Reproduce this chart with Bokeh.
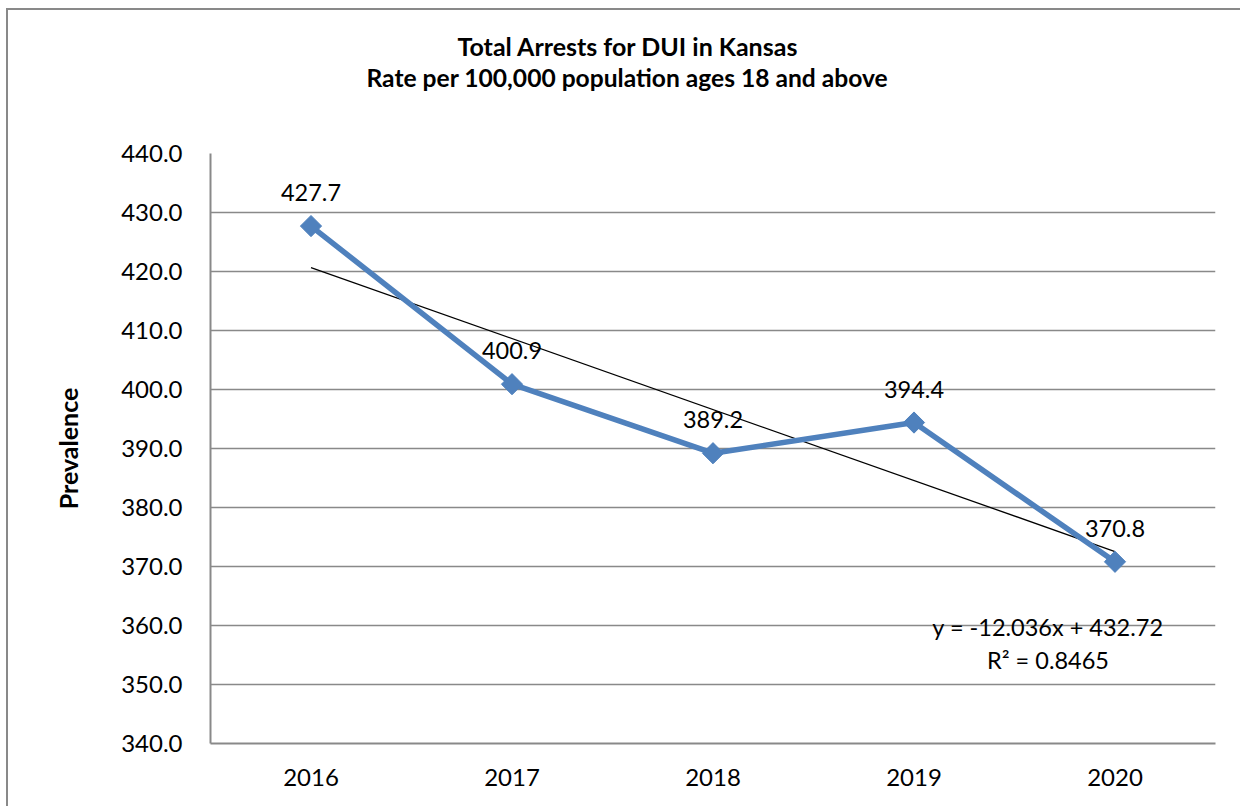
import numpy as np
from bokeh.plotting import figure
from bokeh.models import ColumnDataSource, FixedTicker, PrintfTickFormatter, Title, LabelSet, Range1d, FactorRange
from bokeh.core.properties import value
from bokeh.embed import file_html
from bokeh.resources import INLINE

years = ["2016", "2017", "2018", "2019", "2020"]
rates = [427.7, 400.9, 389.2, 394.4, 370.8]
y_ticks = [340, 350, 360, 370, 380, 390, 400, 410, 420, 430, 440]
title1 = "Total Arrests for DUI in Kansas"
title2 = "Rate per 100,000 population ages 18 and above"
y_label = "Prevalence"
eq_text = "y = -12.036x + 432.72"
r2_text = "R² = 0.8465"

FONT = "Lato"
BLUE = "#4F81BD"
GRAY = "#898989"

# linear trendline fitted on the data
idx = np.arange(1, len(rates) + 1)
slope, intercept = np.polyfit(idx, rates, 1)
trend_x = [years[0], years[-1]]
trend_y = [slope * idx[0] + intercept, slope * idx[-1] + intercept]

p = figure(width=1234, height=798, x_range=FactorRange(*years, range_padding=0),
           y_range=Range1d(340, 440), output_backend="svg", toolbar_location=None,
           min_border_left=202, min_border_right=27, min_border_top=143, min_border_bottom=65)
p.margin = (8, 0, 0, 6)
p.styles = {"border-left": "2px solid #898989", "border-top": "2px solid #898989"}
p.outline_line_color = None
p.background_fill_color = "white"
p.border_fill_color = "white"

# spacer between the frame and the two-line chart title
spacer = Title(text="\u00a0", standoff=48, text_font=FONT, text_font_size="10px",
               text_color="white")
t2 = Title(text=title2, align="left", offset=156, standoff=0, text_font=FONT,
           text_font_size="24.6px", text_font_style="bold", text_color="black")
t1 = Title(text=title1, align="left", offset=247, standoff=0, text_font=FONT,
           text_font_size="25px", text_font_style="bold", text_color="black")
p.add_layout(spacer, "above")
p.add_layout(t2, "above")
p.add_layout(t1, "above")

src = ColumnDataSource(dict(x=years, y=rates, lbl=[f"{v:.1f}" for v in rates]))

p.line(trend_x, trend_y, line_color="black", line_width=1.3)
p.line("x", "y", source=src, line_color=BLUE, line_width=5.5)
p.scatter("x", "y", source=src, marker="square", angle=np.pi / 4, size=15,
          fill_color=BLUE, line_color=BLUE)

labels = LabelSet(x="x", y="y", text="lbl", source=src, text_align="center",
                  text_baseline="bottom", y_offset=25, text_font=value(FONT),
                  text_font_size="23.5px", text_color="black")
p.add_layout(labels)

p.text(x=[years[-1]], y=[359.7], text=[eq_text], x_offset=-67, text_align="center",
       text_baseline="middle", text_font=value(FONT), text_font_size="23.5px", text_color="black")
p.text(x=[years[-1]], y=[354.2], text=[r2_text], x_offset=-67, text_align="center",
       text_baseline="middle", text_font=value(FONT), text_font_size="23.5px", text_color="black")

p.yaxis.ticker = FixedTicker(ticks=y_ticks)
p.yaxis.formatter = PrintfTickFormatter(format="%.1f")
p.yaxis.axis_label = y_label
p.yaxis.axis_label_text_font = FONT
p.yaxis.axis_label_text_font_size = "25px"
p.yaxis.axis_label_text_font_style = "bold"
p.yaxis.axis_label_text_color = "black"
p.yaxis.axis_label_standoff = 35
p.yaxis.major_label_standoff = 22

for ax in (p.xaxis, p.yaxis):
    ax.major_label_text_font = FONT
    ax.major_label_text_font_size = "24px"
    ax.major_label_text_color = "black"
    ax.axis_line_color = GRAY
    ax.axis_line_width = 2
    ax.major_tick_line_color = None
    ax.minor_tick_line_color = None
p.xaxis.major_label_standoff = 19

p.xgrid.grid_line_color = None
p.ygrid.grid_line_color = GRAY
p.ygrid.grid_line_width = 1.5
p.ygrid.ticker = FixedTicker(ticks=y_ticks)

open("out.html", "w").write(file_html(p, INLINE))
